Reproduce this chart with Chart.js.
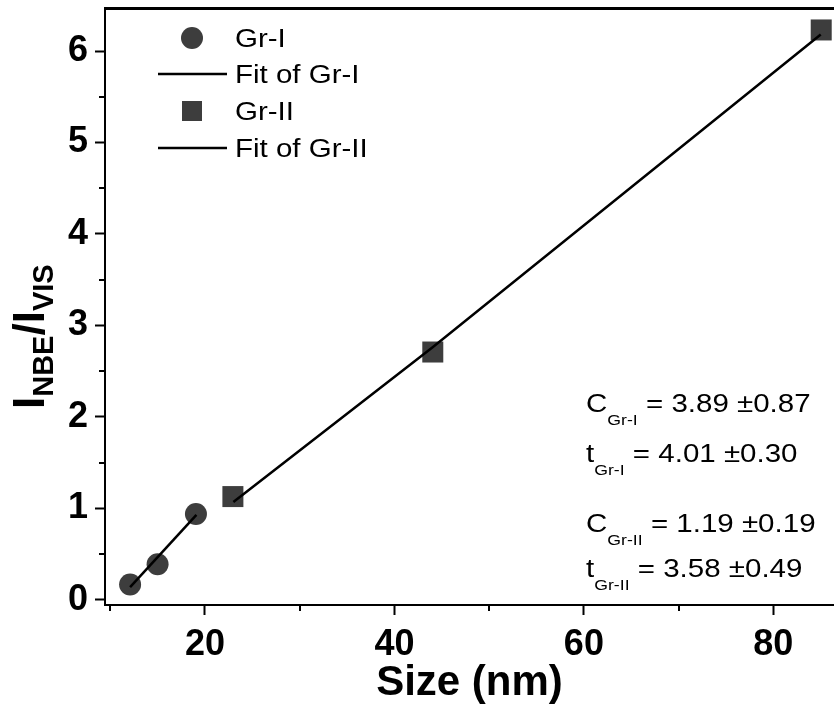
<!DOCTYPE html>
<html>
<head>
<meta charset="utf-8">
<script src="https://cdn.jsdelivr.net/npm/chart.js@4/dist/chart.umd.min.js"></script>
<style>
  html, body { margin: 0; padding: 0; background: #fff; overflow: hidden; }
  canvas { display: block; }
</style>
</head>
<body>
<canvas id="ratioChart" width="834" height="709"></canvas>
<script>
/* NBE / visible intensity ratio vs. crystallite size, two growth groups */

const FONT = "'Liberation Sans', Arial, sans-serif";
const MARK = '#3d3d3d';

// measured points
const grISize   = [12.1, 15.0, 19.05];
const grIRatio  = [0.17, 0.39, 0.94];
const grIISize  = [22.95, 44.05, 85.05];
const grIIRatio = [1.13, 2.71, 6.23];

// fitted curves
const fitISize   = [12.1, 19.1];
const fitIRatio  = [0.14, 0.93];
const fitIISize  = [23.0, 44.0, 85.0];
const fitIIRatio = [1.07, 2.76, 6.18];

// axis ticks
const xMajor = [20, 40, 60, 80];
const xMinor = [10, 30, 50, 70];
const yMajor = [0, 1, 2, 3, 4, 5, 6];
const yMinor = [0.5, 1.5, 2.5, 3.5, 4.5, 5.5];

// fit parameters printed in the plot
const fitNotes = [
  { sym: 'C', sub: 'Gr-I',  text: ' = 3.89 \u00b10.87' },
  { sym: 't', sub: 'Gr-I',  text: ' = 4.01 \u00b10.30' },
  { sym: 'C', sub: 'Gr-II', text: ' = 1.19 \u00b10.19' },
  { sym: 't', sub: 'Gr-II', text: ' = 3.58 \u00b10.49' }
];

const legendNames = ['Gr-I', 'Fit of Gr-I', 'Gr-II', 'Fit of Gr-II'];

const toXY = (xs, ys) => xs.map((x, i) => ({ x, y: ys[i] }));

// axes sit flush with the canvas edges, no room kept for end labels
function noPad(s) {
  s.paddingTop = s.paddingBottom = s.paddingLeft = s.paddingRight = 0;
}

// draw text stretched horizontally, returns advance width
function wideText(ctx, str, x, y, font, sx) {
  ctx.save();
  ctx.font = font;
  ctx.translate(x, y);
  ctx.scale(sx, 1);
  ctx.fillText(str, 0, 0);
  const w = ctx.measureText(str).width * sx;
  ctx.restore();
  return w;
}

const extras = {
  id: 'extras',
  afterDraw(chart) {
    const { ctx, chartArea: a, scales: { x, y } } = chart;
    ctx.save();

    /* ── minor ticks ── */
    ctx.strokeStyle = '#000';
    ctx.lineWidth = 2;
    ctx.beginPath();
    xMinor.forEach(v => {
      const px = Math.round(x.getPixelForValue(v));
      ctx.moveTo(px, a.bottom);
      ctx.lineTo(px, a.bottom + 6);
    });
    yMinor.forEach(v => {
      const py = Math.round(y.getPixelForValue(v));
      ctx.moveTo(a.left, py);
      ctx.lineTo(a.left - 6, py);
    });
    ctx.stroke();

    /* ── legend ── */
    const lx = a.left + 87;
    const rows = [a.top + 30, a.top + 66, a.top + 103, a.top + 140];
    const ds = chart.data.datasets;
    ctx.fillStyle = MARK;
    ctx.beginPath();
    ctx.arc(lx, rows[0], 11, 0, Math.PI * 2);
    ctx.fill();
    ctx.fillRect(lx - 10, rows[2] - 10, 20, 20);
    ctx.strokeStyle = '#000';
    ctx.lineWidth = ds[0].borderWidth;
    [rows[1], rows[3]].forEach(ry => {
      ctx.beginPath();
      ctx.moveTo(lx - 34, ry);
      ctx.lineTo(lx + 35, ry);
      ctx.stroke();
    });
    ctx.fillStyle = '#000';
    ctx.textBaseline = 'alphabetic';
    legendNames.forEach((name, i) => {
      wideText(ctx, name, a.left + 130, rows[i] + 9, '25px ' + FONT, 1.18);
    });

    /* ── fit parameters ── */
    const nx = a.left + 481;
    const base = [a.top + 404, a.top + 454, a.top + 524, a.top + 569];
    fitNotes.forEach((n, i) => {
      let cx = nx;
      cx += wideText(ctx, n.sym, cx, base[i], '25px ' + FONT, 1.18);
      cx += wideText(ctx, n.sub, cx, base[i] + 13, '15px ' + FONT, 1.18);
      wideText(ctx, n.text, cx, base[i], '25px ' + FONT, 1.18);
    });

    /* ── y axis title with subscripts ── */
    ctx.translate(44, 409);
    ctx.rotate(-Math.PI / 2);
    const big = 'bold 44px ' + FONT;
    const small = 'bold 29px ' + FONT;
    const parts = [['I', big, 0], ['NBE', small, 9], ['/I', big, 0], ['VIS', small, 9]];
    let tx = 0;
    parts.forEach(([s, f, dy]) => {
      ctx.font = f;
      ctx.fillText(s, tx, dy);
      tx += ctx.measureText(s).width;
    });

    ctx.restore();
  }
};

new Chart(document.getElementById('ratioChart'), {
  type: 'scatter',
  data: {
    datasets: [
      {
        label: 'Fit of Gr-I',
        data: toXY(fitISize, fitIRatio),
        showLine: true, borderColor: '#000', borderWidth: 2.5,
        pointRadius: 0, order: 0
      },
      {
        label: 'Fit of Gr-II',
        data: toXY(fitIISize, fitIIRatio),
        showLine: true, borderColor: '#000', borderWidth: 2.5,
        pointRadius: 0, order: 0
      },
      {
        label: 'Gr-I',
        data: toXY(grISize, grIRatio),
        pointStyle: 'circle', pointRadius: 11,
        backgroundColor: MARK, borderWidth: 0, order: 1
      },
      {
        label: 'Gr-II',
        data: toXY(grIISize, grIIRatio),
        pointStyle: 'rect', pointRadius: 14.85,
        backgroundColor: MARK, borderWidth: 0, order: 1
      }
    ]
  },
  options: {
    responsive: false,
    animation: false,
    clip: false,
    layout: { padding: 0, autoPadding: false },
    plugins: { legend: { display: false }, tooltip: { enabled: false } },
    scales: {
      x: {
        type: 'linear', position: 'bottom',
        min: 9.45, max: 86.4,
        afterFit: s => { s.height = 104; noPad(s); },
        afterBuildTicks: s => { s.ticks = xMajor.map(v => ({ value: v })); },
        grid: { display: true, drawOnChartArea: false, drawTicks: true, tickLength: 10, tickWidth: 2, tickColor: '#000' },
        border: { display: true, color: '#000', width: 2 },
        ticks: { color: '#000', font: { family: FONT, size: 36, weight: 'bold' }, padding: 8, maxRotation: 0 },
        title: {
          display: true, text: 'Size (nm)', color: '#000',
          font: { family: FONT, size: 42, weight: 'bold' },
          padding: { top: 0, bottom: 0 }
        }
      },
      xTop: {
        type: 'linear', position: 'top',
        afterFit: s => { s.height = 8; noPad(s); },
        grid: { display: false },
        border: { display: true, color: '#000', width: 3 },
        ticks: { display: false }
      },
      y: {
        type: 'linear', position: 'left',
        min: -0.055, max: 6.47,
        afterFit: s => { s.width = 105; noPad(s); },
        afterBuildTicks: s => { s.ticks = yMajor.map(v => ({ value: v })); },
        grid: { display: true, drawOnChartArea: false, drawTicks: true, tickLength: 10, tickWidth: 2, tickColor: '#000' },
        border: { display: true, color: '#000', width: 2 },
        ticks: { color: '#000', font: { family: FONT, size: 36, weight: 'bold' }, padding: 7 }
      }
    }
  },
  plugins: [extras]
});
</script>
</body>
</html>
